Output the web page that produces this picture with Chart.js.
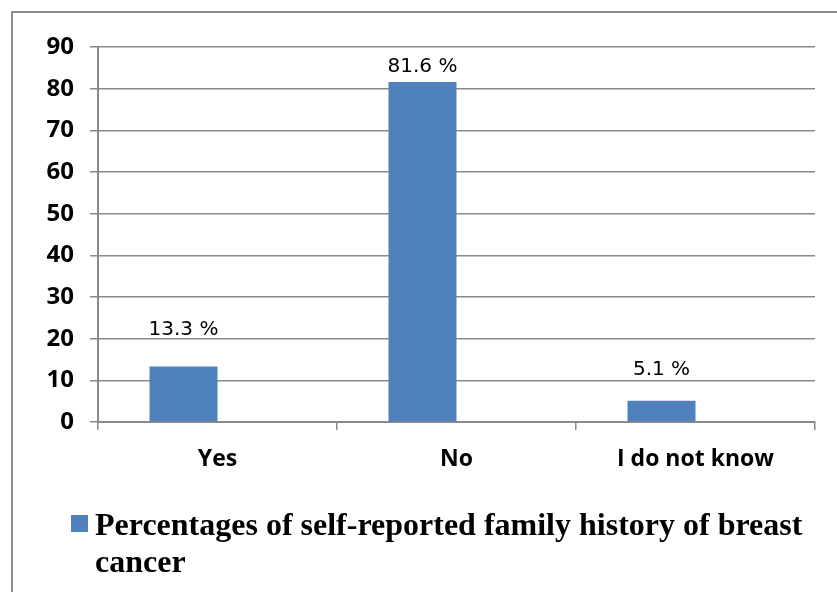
<!DOCTYPE html>
<html>
<head>
<meta charset="utf-8">
<script src="https://cdn.jsdelivr.net/npm/chart.js@4/dist/chart.umd.min.js"></script>
<style>
  body { margin: 0; background: #fff; }
  #frame {
    position: absolute; left: 11px; top: 11px; width: 900px; height: 700px;
    border-left: 2px solid #8c8c8c; border-top: 2px solid #8c8c8c;
  }
  #myChart { position: absolute; left: 0; top: 0; }
</style>
</head>
<body>
<div id="frame"></div>
<canvas id="myChart" width="837" height="592"></canvas>
<script>
// chart values
const categories = ["Yes", "No", "I do not know"];
const percentages = [13.3, 81.6, 5.1];
// the original chart keeps an empty second series, which pushes the bars left of centre
const emptySeries = [null, null, null];
const seriesName = "Percentages of self-reported family history of breast cancer";
const yMin = 0;
const yMax = 90;
const yStep = 10;

const barColor = "#4f81bd";
const axisGrey = "#8a8a8a";

// value labels above each bar (the original has them nudged by hand, so gaps differ)
const barLabels = {
  id: "barLabels",
  afterDatasetsDraw(chart, args, opts) {
    const ctx = chart.ctx;
    const meta = chart.getDatasetMeta(0);
    ctx.save();
    ctx.font = "20px 'DejaVu Sans'";
    ctx.fillStyle = "#000";
    ctx.textAlign = "center";
    ctx.textBaseline = "alphabetic";
    meta.data.forEach((bar, i) => {
      const gap = opts.gaps[i] || 10;
      ctx.fillText(chart.data.datasets[0].data[i] + " %", bar.x, bar.y - gap);
    });
    ctx.restore();
  },
};

// legend below the plot, wraps onto two lines like the original
const wrapLegend = {
  id: "wrapLegend",
  afterDraw(chart) {
    const ctx = chart.ctx;
    const ds = chart.data.datasets[0];
    ctx.save();
    ctx.fillStyle = ds.backgroundColor;
    ctx.fillRect(71, 515, 17, 17);
    ctx.font = "bold 32px 'Liberation Serif'";
    ctx.fillStyle = "#000";
    ctx.textBaseline = "alphabetic";
    const words = ds.label.split(" ");
    const lines = [];
    let line = "";
    for (const w of words) {
      const test = line ? line + " " + w : w;
      if (ctx.measureText(test).width > 725 && line) {
        lines.push(line);
        line = w;
      } else {
        line = test;
      }
    }
    lines.push(line);
    lines.forEach((l, i) => ctx.fillText(l, 95, 535 + i * 37));
    ctx.restore();
  },
};

const ctx = document.getElementById("myChart").getContext("2d");
const chart = new Chart(ctx, {
  type: "bar",
  data: {
    labels: categories,
    datasets: [
      {
        label: seriesName,
        backgroundColor: barColor,
        data: percentages,
        categoryPercentage: 0.569,
        barPercentage: 1,
      },
      {
        label: "",
        backgroundColor: "rgba(0,0,0,0)",
        data: emptySeries,
        categoryPercentage: 0.569,
        barPercentage: 1,
      },
    ],
  },
  options: {
    responsive: false,
    animation: false,
    layout: { padding: { top: 47, right: 22, left: 0, bottom: 0 } },
    plugins: {
      legend: { display: false },
      tooltip: { enabled: false },
      barLabels: { gaps: [32, 10, 26] },
    },
    scales: {
      x: {
        offset: true,
        grid: {
          display: true,
          offset: true,
          drawOnChartArea: false,
          drawTicks: true,
          tickLength: 8,
          color: axisGrey,
          lineWidth: 1.5,
        },
        border: { display: true, color: axisGrey, width: 2 },
        ticks: {
          color: "#000",
          font: { family: "'Open Sans'", weight: "bold", size: 23 },
          padding: 16,
        },
        afterFit(scale) {
          scale.height = 592 - 422;
        },
      },
      y: {
        min: yMin,
        max: yMax,
        ticks: {
          stepSize: yStep,
          color: "#000",
          font: { family: "'Open Sans'", weight: "bold", size: 24 },
          padding: 16,
        },
        grid: {
          color: axisGrey,
          lineWidth: 1.5,
          tickLength: 8,
        },
        border: { display: true, color: axisGrey, width: 2 },
        afterFit(scale) {
          scale.width = 98;
        },
      },
    },
  },
  plugins: [barLabels, wrapLegend],
});
</script>
</body>
</html>
